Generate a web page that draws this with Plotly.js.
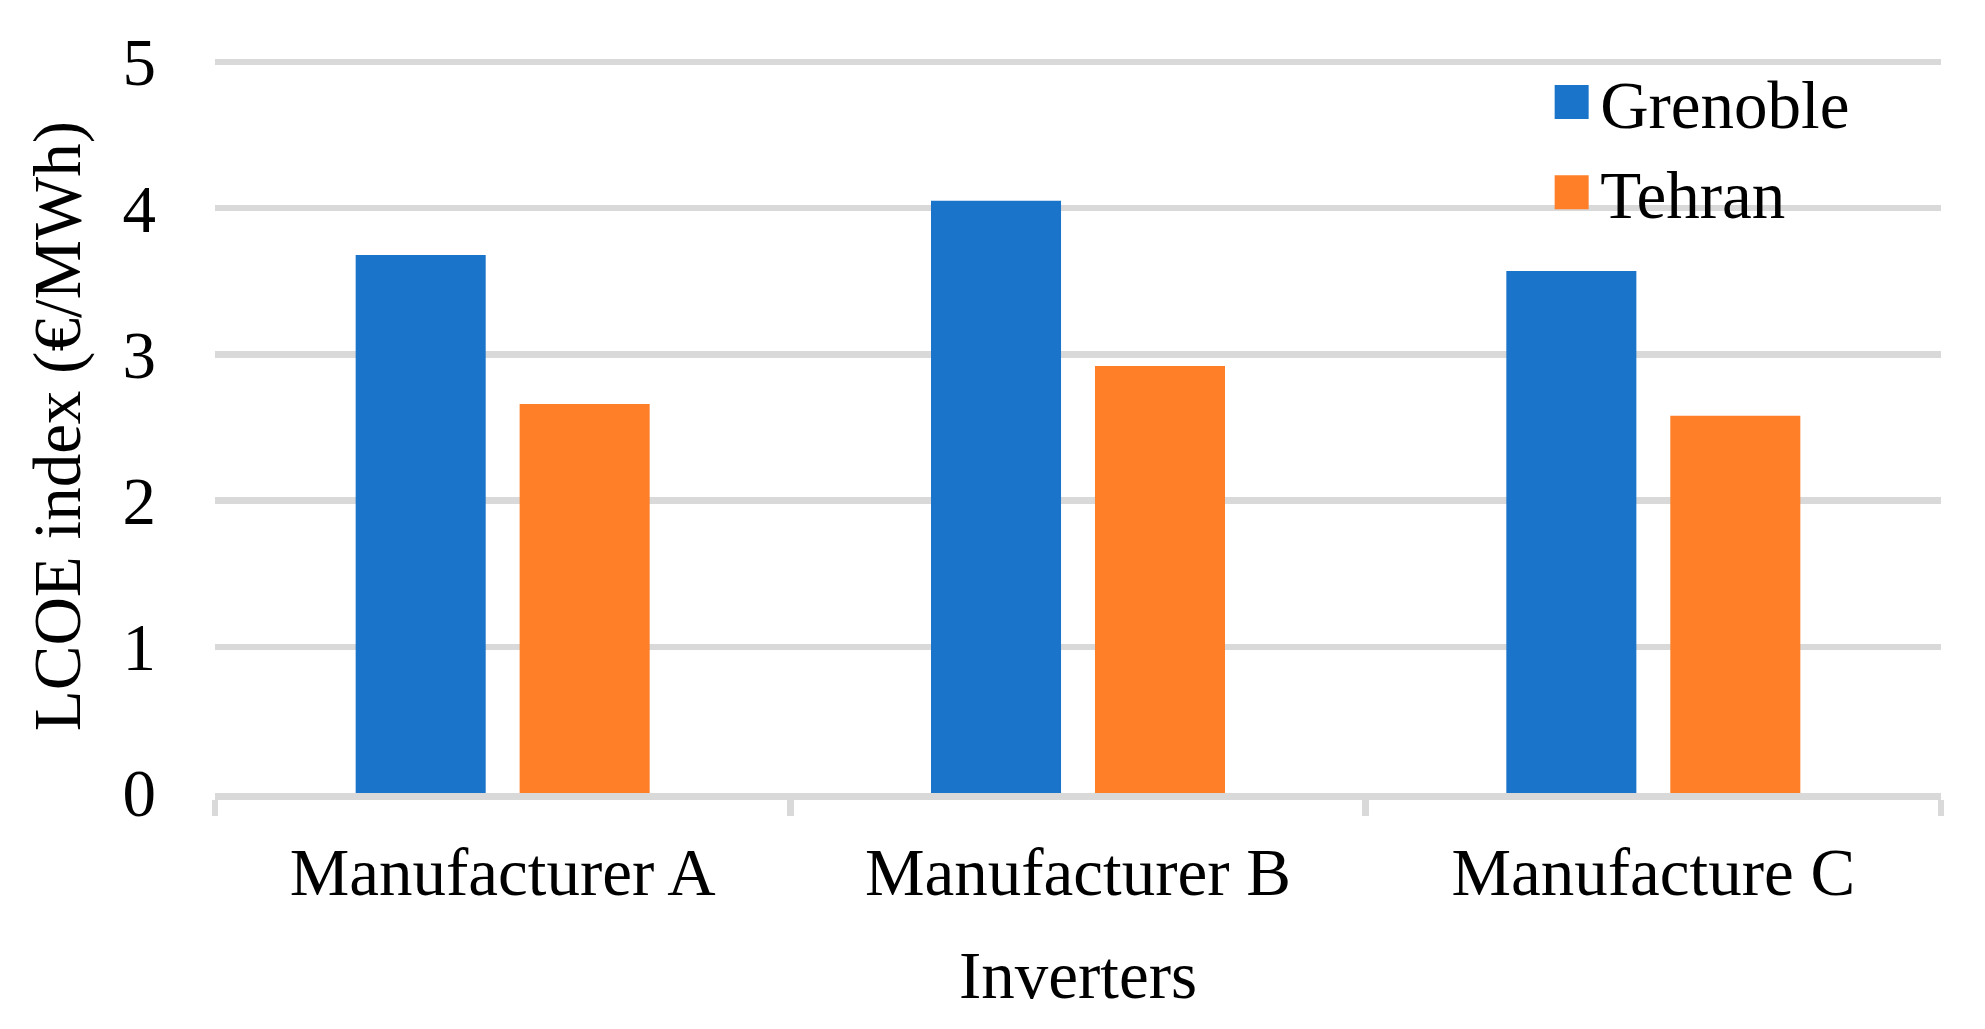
<!DOCTYPE html>
<html>
<head>
<meta charset="utf-8">
<script src="https://cdn.plot.ly/plotly-3.0.1.min.js"></script>
<style>
  html, body { margin: 0; padding: 0; background: #ffffff; }
  #chart { width: 1985px; height: 1029px; }
</style>
</head>
<body>
<div id="chart"></div>
<script>
const categories = ['Manufacturer A', 'Manufacturer B', 'Manufacture C'];
const seriesNames = ['Grenoble', 'Tehran'];
const grenobleValues = [3.68, 4.05, 3.57];
const tehranValues = [2.66, 2.92, 2.58];
const yTickValues = [0, 1, 2, 3, 4, 5];
const yTickLabels = ['0', '1', '2', '3', '4', '5'];
const xAxisTitle = 'Inverters';
const yAxisTitle = 'LCOE index (€/MWh)';

const FONT = 'Liberation Serif, Times New Roman, serif';
const FS = 67;
const GRID = '#d9d9d9';

const traces = [
  { type: 'bar', name: seriesNames[0], x: categories, y: grenobleValues,
    marker: { color: '#1a74c9' }, hoverinfo: 'x+y' },
  { type: 'bar', name: seriesNames[1], x: categories, y: tehranValues,
    marker: { color: '#fe7f28' }, hoverinfo: 'x+y' }
];

const layout = {
  width: 1985, height: 1029,
  paper_bgcolor: '#ffffff', plot_bgcolor: '#ffffff',
  margin: { l: 215, r: 44, t: 58.6, b: 235.7, pad: 0 },
  font: { family: FONT, size: FS, color: '#000000' },
  barmode: 'group',
  bargap: 0.43,
  bargroupgap: 0.207,
  showlegend: true,
  legend: {
    x: 0.7695, xanchor: 'left', y: 1.0095, yanchor: 'top',
    bgcolor: 'rgba(0,0,0,0)', borderwidth: 0,
    font: { family: FONT, size: FS, color: '#000000' },
    itemwidth: 47, tracegroupgap: 0
  },
  xaxis: {
    type: 'category',
    showgrid: false, zeroline: false,
    showline: true, linecolor: GRID, linewidth: 6.5,
    ticks: 'outside', tickson: 'boundaries', ticklen: 16, tickwidth: 6.5, tickcolor: GRID,
    ticklabelstandoff: 15,
    tickfont: { family: FONT, size: FS, color: '#000000' },
    title: { text: xAxisTitle, font: { family: FONT, size: FS, color: '#000000' }, standoff: 45 }
  },
  yaxis: {
    range: [0, 5.02],
    tickvals: yTickValues, ticktext: yTickLabels,
    showgrid: true, gridcolor: GRID, gridwidth: 6.5,
    zeroline: false, showline: false, ticks: '',
    ticklabelstandoff: 58,
    tickfont: { family: FONT, size: FS, color: '#000000' },
    title: { text: yAxisTitle, font: { family: FONT, size: FS, color: '#000000' }, standoff: 20 }
  }
};

Plotly.newPlot('chart', traces, layout, { displayModeBar: false, staticPlot: true }).then(function () {
  document.querySelectorAll('#chart .legend .legendpoints path').forEach(function (p) {
    p.setAttribute('d', 'M17,17H-17V-17H17Z');
  });
});
</script>
</body>
</html>
